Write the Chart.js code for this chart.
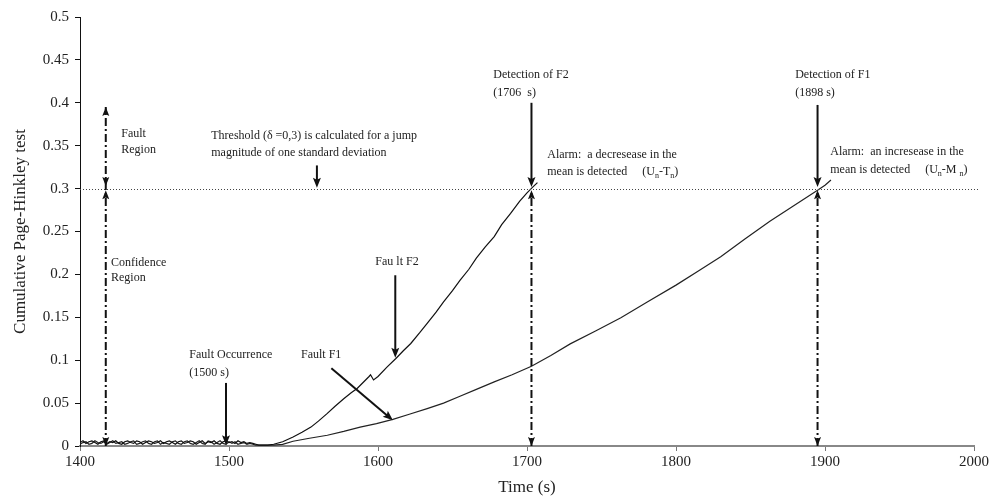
<!DOCTYPE html>
<html>
<head>
<meta charset="utf-8">
<script src="https://cdn.jsdelivr.net/npm/chart.js@4/dist/chart.umd.min.js"></script>
<style>
html,body{margin:0;padding:0;background:#fff;}
#wrap{width:998px;height:498px;}
</style>
</head>
<body>
<div id="wrap"><canvas id="c" width="998" height="498"></canvas></div>
<script>
// ---- data ----
const noiseTimes = [1400,1402,1404,1406,1408,1410,1412,1414,1416,1418,1420,1422,1424,1426,1428,1430,1432,1434,1436,1438,1440,1442,1444,1446,1448,1450,1452,1454,1456,1458,1460,1462,1464,1466,1468,1470,1472,1474,1476,1478,1480,1482,1484,1486,1488,1490,1492,1494,1496,1498,1500,1502,1504,1506,1508,1510,1512,1514,1516,1518,1520];
const noiseF2 = [0.004,0.006,0.003,0.005,0.006,0.004,0.002,0.005,0.006,0.003,0.005,0.004,0.006,0.003,0.002,0.005,0.006,0.004,0.003,0.006,0.005,0.002,0.004,0.006,0.005,0.003,0.004,0.006,0.003,0.005,0.006,0.004,0.002,0.005,0.006,0.003,0.004,0.006,0.005,0.002,0.004,0.006,0.003,0.005,0.004,0.006,0.003,0.002,0.005,0.006,0.004,0.005,0.003,0.006,0.004,0.005,0.003,0.004,0.003,0.002,0.001];
const noiseF1 = [0.002,0.004,0.005,0.002,0.003,0.006,0.004,0.003,0.005,0.002,0.004,0.006,0.003,0.004,0.005,0.002,0.003,0.005,0.006,0.002,0.003,0.005,0.006,0.003,0.002,0.005,0.006,0.002,0.004,0.003,0.002,0.005,0.006,0.003,0.002,0.005,0.006,0.003,0.002,0.004,0.006,0.003,0.002,0.006,0.005,0.002,0.004,0.006,0.003,0.002,0.005,0.003,0.005,0.002,0.003,0.004,0.002,0.003,0.002,0.001,0.001];
const f2Times = [1522,1526,1530,1536,1543,1549,1555,1560,1566,1571,1577,1582,1586,1590,1594,1595,1597,1600,1606,1612,1617,1622,1628,1633,1639,1644,1650,1655,1661,1666,1672,1678,1683,1689,1695,1700,1704,1707];
const f2Values = [0.001,0.001,0.002,0.005,0.0105,0.016,0.022,0.029,0.038,0.046,0.055,0.062,0.067,0.074,0.081,0.083,0.077,0.081,0.092,0.102,0.111,0.1195,0.132,0.143,0.156,0.168,0.181,0.193,0.206,0.219,0.232,0.244,0.258,0.271,0.285,0.295,0.302,0.307];
const f1Times = [1522,1530,1536,1543,1554,1566,1577,1588,1599,1610,1621,1633,1644,1655,1666,1678,1690,1703,1716,1729,1746,1763,1781,1800,1815,1830,1846,1863,1879,1895,1900,1904];
const f1Values = [0.001,0.001,0.002,0.0055,0.009,0.0125,0.017,0.022,0.026,0.031,0.037,0.0436,0.050,0.058,0.066,0.0747,0.083,0.093,0.1055,0.119,0.134,0.1495,0.168,0.1875,0.204,0.2205,0.241,0.262,0.280,0.298,0.304,0.31];
const xTicks = [1400,1500,1600,1700,1800,1900,2000];
const yTicks = [0,0.05,0.1,0.15,0.2,0.25,0.3,0.35,0.4,0.45,0.5];
const threshold = 0.3;

// annotations (data coordinates)
const notes = [
  {t:1427.7, v:[0.3637,0.3450], lines:["Fault","Region"]},
  {t:1420.8, v:[0.214,0.196], lines:["Confidence","Region"]},
  {t:1473.4, v:[0.1058,0.0856], lines:["Fault Occurrence","(1500 s)"]},
  {t:1488.1, v:[0.3612,0.3413], lines:["Threshold (\u03b4 =0,3) is calculated for a jump","magnitude of one standard deviation"]},
  {t:1598.2, v:[0.2143], lines:["Fau lt F2"]},
  {t:1548.3, v:[0.1058], lines:["Fault F1"]},
  {t:1677.4, v:[0.4326,0.4116], lines:["Detection of F2","(1706  s)"]},
  {t:1880.0, v:[0.4326,0.4116], lines:["Detection of F1","(1898 s)"]},
  {t:1713.6, v:[0.3392], lines:["Alarm:  a decresease in the"]},
  {t:1903.5, v:[0.3427], lines:["Alarm:  an incresease in the"]}
];
const subNotes = [
  {t:1713.6, v:0.3194, segs:[["mean is detected     (U",0],["n",1],["-T",0],["n",1],[")",0]]},
  {t:1903.5, v:0.3217, segs:[["mean is detected     (U",0],["n",1],["-M ",0],["n",1],[")",0]]}
];
const arrows = [
  {from:[1703,0.400], to:[1703,0.302]},
  {from:[1895,0.3975], to:[1895,0.302]},
  {from:[1498,0.0735], to:[1498,0.001]},
  {from:[1559,0.327], to:[1559,0.301]},
  {from:[1611.6,0.199], to:[1611.6,0.103]},
  {from:[1568.7,0.0905], to:[1610,0.030]}
];
const dashLines = [
  {t:1417.3, v0:0, v1:0.395, heads:[[0,'down'],[0.395,'up'],[0.303,'down'],[0.298,'up']]},
  {t:1703, v0:0, v1:0.298, heads:[[0,'down'],[0.298,'up']]},
  {t:1895, v0:0, v1:0.298, heads:[[0,'down'],[0.298,'up']]}
];

const FONT = '"Liberation Serif","Times New Roman",serif';

function head(ctx, x, y, ang, len, w){
  ctx.save();
  ctx.translate(x,y); ctx.rotate(ang);
  ctx.beginPath();
  ctx.moveTo(0,0); ctx.lineTo(-len,-w/2); ctx.lineTo(-len*0.8,0); ctx.lineTo(-len,w/2); ctx.closePath();
  ctx.fill();
  ctx.restore();
}

const annPlugin = {
  id:'ann',
  afterDatasetsDraw(chart){
    const ctx = chart.ctx, xs = chart.scales.x, ys = chart.scales.y;
    const X = t=>xs.getPixelForValue(t), Y = v=>ys.getPixelForValue(v);
    ctx.save();
    ctx.strokeStyle = '#444'; ctx.lineWidth = 1; ctx.setLineDash([1,2]);
    ctx.beginPath(); ctx.moveTo(chart.chartArea.left, Math.round(Y(threshold))+0.5); ctx.lineTo(chart.chartArea.right+6, Math.round(Y(threshold))+0.5); ctx.stroke();
    ctx.lineWidth = 2; ctx.strokeStyle = '#111'; ctx.fillStyle = '#111';
    dashLines.forEach(d=>{
      ctx.setLineDash([8,3,2,3]);
      ctx.beginPath(); ctx.moveTo(X(d.t), Y(d.v0)); ctx.lineTo(X(d.t), Y(d.v1)); ctx.stroke();
      ctx.setLineDash([]);
      d.heads.forEach(h=>head(ctx, X(d.t), Y(h[0]), h[1]==='down'?Math.PI/2:-Math.PI/2, 9, 7));
    });
    ctx.setLineDash([]);
    arrows.forEach(a=>{
      const x1=X(a.from[0]), y1=Y(a.from[1]), x2=X(a.to[0]), y2=Y(a.to[1]);
      const ang = Math.atan2(y2-y1, x2-x1);
      ctx.lineWidth = 2;
      ctx.beginPath(); ctx.moveTo(x1,y1); ctx.lineTo(x2-Math.cos(ang)*6, y2-Math.sin(ang)*6); ctx.stroke();
      head(ctx, x2, y2, ang, 10, 8);
    });
    ctx.fillStyle = '#222'; ctx.font = '12px '+FONT; ctx.textBaseline = 'middle'; ctx.textAlign='left';
    notes.forEach(n=>n.lines.forEach((l,i)=>ctx.fillText(l, X(n.t), Y(n.v[i]))));
    subNotes.forEach(s=>{
      let x = X(s.t); const y = Y(s.v);
      s.segs.forEach(sg=>{
        if(sg[1]){ ctx.font='8px '+FONT; ctx.fillText(sg[0], x, y+4); x += ctx.measureText(sg[0]).width; ctx.font='12px '+FONT; }
        else { ctx.fillText(sg[0], x, y); x += ctx.measureText(sg[0]).width; }
      });
    });
    ctx.restore();
  }
};

const pts = (ts, vs)=>ts.map((t,i)=>({x:t, y:vs[i]}));

new Chart(document.getElementById('c'), {
  type:'line',
  data:{datasets:[
    {label:'F2 (Un-Tn)', data:pts(noiseTimes.concat(f2Times), noiseF2.concat(f2Values)), borderColor:'#111', borderWidth:1.2, pointRadius:0, tension:0},
    {label:'F1 (Un-Mn)', data:pts(noiseTimes.concat(f1Times), noiseF1.concat(f1Values)), borderColor:'#222', borderWidth:1.2, pointRadius:0, tension:0}
  ]},
  options:{
    responsive:false, animation:false, events:[],
    layout:{padding:{top:17, right:24, left:10, bottom:0}},
    plugins:{legend:{display:false}, tooltip:{enabled:false}},
    scales:{
      x:{type:'linear', min:1400, max:2000,
        afterBuildTicks:s=>{s.ticks = xTicks.map(v=>({value:v}));},
        ticks:{color:'#222', font:{family:FONT, size:15}, padding:2, maxRotation:0, callback:v=>String(v)},
        grid:{drawOnChartArea:false, tickLength:5, color:'#777', lineWidth:1},
        border:{color:'#888', width:2},
        title:{display:true, text:'Time (s)', color:'#222', font:{family:FONT, size:17}, padding:{top:0,bottom:0}},
        afterFit:s=>{s.height = 52;}
      },
      y:{type:'linear', min:0, max:0.5,
        afterBuildTicks:s=>{s.ticks = yTicks.map(v=>({value:v}));},
        ticks:{color:'#222', font:{family:FONT, size:15}, padding:6, callback:v=>String(+v.toFixed(2))},
        grid:{drawOnChartArea:false, tickLength:5, color:'#111', lineWidth:1},
        border:{color:'#111', width:1},
        title:{display:true, text:'Cumulative Page-Hinkley test', color:'#222', font:{family:FONT, size:17}, padding:{top:0,bottom:4}},
        afterFit:s=>{s.width = 70;}
      }
    }
  },
  plugins:[annPlugin]
});
</script>
</body>
</html>
